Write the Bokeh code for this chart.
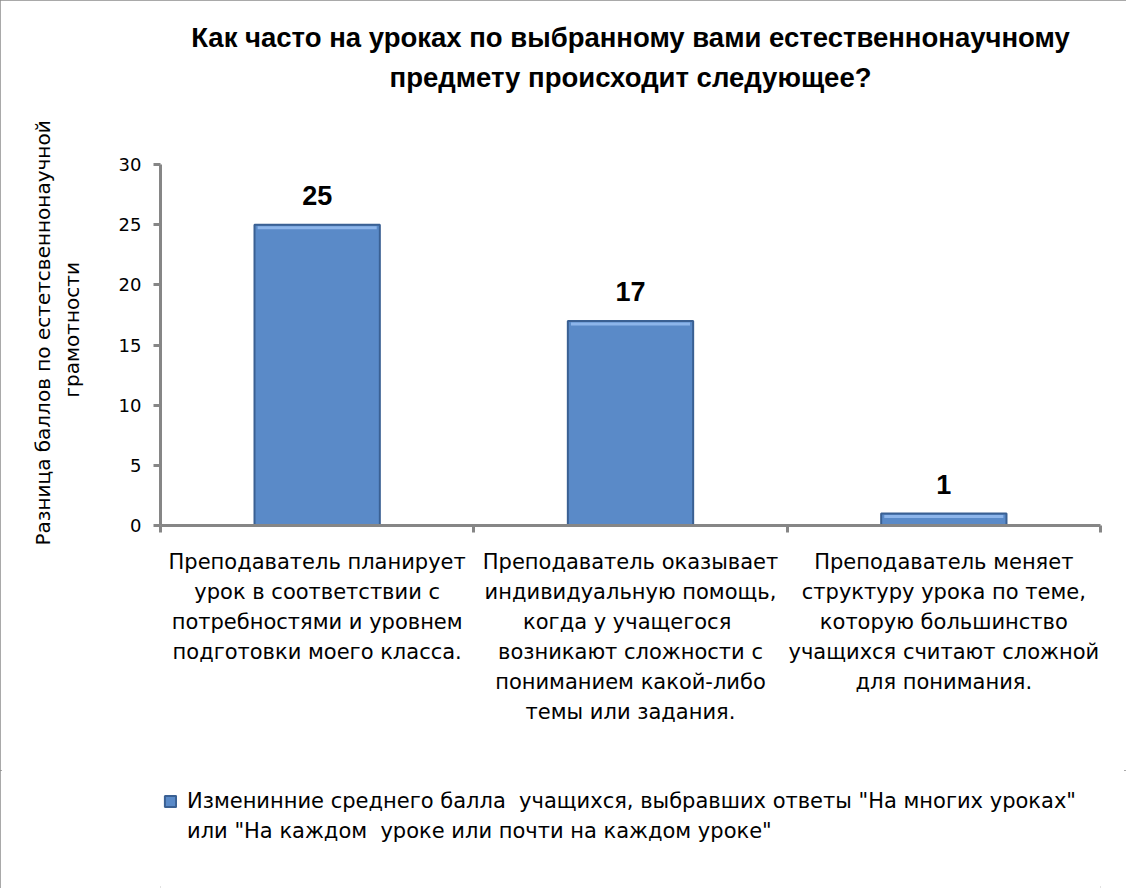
from bokeh.plotting import figure
from bokeh.layouts import column
from bokeh.models import (ColumnDataSource, Range1d, FixedTicker, LinearAxis,
                          LabelSet, Legend, LegendItem, Title)
from bokeh.embed import file_html
from bokeh.resources import INLINE
from bokeh.core.properties import value

# ---------------- data ----------------
title_lines = ["Как часто на уроках по выбранному вами естественнонаучному",
               "предмету происходит следующее?"]
category_lines = [
    ["Преподаватель планирует", "урок в соответствии с", "потребностями и уровнем",
     "подготовки моего класса."],
    ["Преподаватель оказывает", "индивидуальную помощь,", "когда у  учащегося",
     "возникают сложности с", "пониманием какой-либо", "темы или задания."],
    ["Преподаватель меняет", "структуру урока по теме,", "которую большинство",
     "учащихся считают сложной", "для понимания."],
]
categories = [" ".join(lines) for lines in category_lines]
values = [25, 17, 1]
y_ticks = [0, 5, 10, 15, 20, 25, 30]
y_label_lines = ["Разница баллов  по естетсвеннонаучной", "грамотности"]
legend_lines = ['Изменинние среднего балла  учащихся, выбравших ответы "На многих уроках"',
                'или "На каждом  уроке или почти на каждом уроке"']

# ---------------- styles ----------------
AXIS_GRAY = "#868686"
BAR_FILL = "#5a8ac8"
BAR_LINE = "#3a6093"
CAT_FONT = "DejaVu Sans"
CAT_SIZE = "21px"
W = 1126
H_MAIN = 770
H_LEG = 888 - H_MAIN

n = len(categories)
slot_center = [i + 0.5 for i in range(n)]          # category slot centres on the x scale

p = figure(width=W, height=H_MAIN, x_range=Range1d(0, n), y_range=Range1d(0, 30),
           output_backend="svg", toolbar_location=None,
           min_border_left=160, min_border_right=26, min_border_top=164,
           min_border_bottom=H_MAIN - 525)
p.xgrid.visible = False
p.ygrid.visible = False
p.outline_line_color = None

# main axes
for ax, ticks in ((p.xaxis[0], list(range(n + 1))), (p.yaxis[0], y_ticks)):
    ax.ticker = FixedTicker(ticks=ticks)
    ax.axis_line_color = AXIS_GRAY
    ax.axis_line_width = 3
    ax.major_tick_line_color = AXIS_GRAY
    ax.major_tick_line_width = 3
    ax.major_tick_in = 0
    ax.major_tick_out = 7
    ax.minor_tick_line_color = None
xax = p.xaxis[0]
xax.major_label_text_font_size = "0px"
xax.major_label_standoff = 0

yax = p.yaxis[0]
yax.major_label_text_font = "DejaVu Sans"
yax.major_label_text_font_size = "18px"
yax.major_label_text_color = "black"
yax.major_label_standoff = 12
yax.axis_label = " "
yax.axis_label_text_font_size = "10px"
yax.axis_label_standoff = 16

# category label rows: one tick-label row per text line, centred on each slot
n_rows = max(len(l) for l in category_lines)
for j in range(n_rows):
    overrides = {}
    for xc, lines in zip(slot_center, category_lines):
        overrides[xc] = lines[j] if j < len(lines) else ""
    row = LinearAxis(ticker=FixedTicker(ticks=slot_center), major_label_overrides=overrides,
                     axis_line_color=None, major_tick_line_color=None,
                     major_tick_in=0, major_tick_out=0, minor_tick_line_color=None,
                     major_label_standoff=17 if j == 0 else 3,
                     major_label_text_font=CAT_FONT, major_label_text_font_size=CAT_SIZE,
                     major_label_text_color="black")
    p.add_layout(row, "below")

# bars
src = ColumnDataSource(dict(x=slot_center, val=values, lbl=[str(v) for v in values],
                            x0=[c - 0.19 for c in slot_center], x1=[c + 0.19 for c in slot_center],
                            hi=[v - 0.25 for v in values]))
bars = p.vbar(x="x", top="val", bottom=0, width=0.4, source=src,
              fill_color=BAR_FILL, line_color=BAR_LINE, line_width=2)
p.segment(x0="x0", x1="x1", y0="hi", y1="hi", source=src, line_color="#8db5ea", line_width=3)

p.add_layout(LabelSet(x="x", y="val", text="lbl", source=src, y_offset=29,
                      text_align="center", text_baseline="middle",
                      text_font=value("Liberation Sans"), text_font_style="bold",
                      text_font_size="27px", text_color="black"))

# title: spacer nearest the frame, then line 2, then line 1
p.add_layout(Title(text=" ", text_font_size="10px", standoff=55), "above")
for t in reversed(title_lines):
    p.add_layout(Title(text=t, align="center", standoff=7,
                       text_font="Liberation Sans", text_font_style="bold",
                       text_font_size="27.5px", text_color="black"), "above")

# y axis label (two rotated lines, nearest first)
for t, off in zip(reversed(y_label_lines), [128, -20]):
    p.add_layout(Title(text=t, align="left", offset=off, standoff=3,
                       text_font="DejaVu Sans", text_font_style="normal",
                       text_font_size="20px", text_color="black"), "left")

# legend strip (its frame is aligned with the main frame by the column layout)
p2 = figure(width=W, height=H_LEG, x_range=Range1d(0, 1), y_range=Range1d(0, 1),
            x_axis_type=None, y_axis_type=None, title=None, min_border=0,
            output_backend="svg", toolbar_location=None)
p2.outline_line_color = None
# hidden legend proxies (not drawn; only their legend swatches are shown)
proxy = p2.vbar(x=[0.5], top=[1], width=0.4, fill_color=BAR_FILL, line_color=BAR_LINE,
                line_width=2, visible=False)
ghost = p2.vbar(x=[0.5], top=[1], width=0.4, fill_alpha=0, line_alpha=0, visible=False)
legend = Legend(items=[LegendItem(label=legend_lines[0], renderers=[proxy]),
                       LegendItem(label=legend_lines[1], renderers=[ghost])],
                location=(3, 42), padding=0, margin=0, spacing=0,
                glyph_width=14, glyph_height=14, label_height=30, label_standoff=10,
                label_text_font=CAT_FONT, label_text_font_size=CAT_SIZE,
                label_text_color="black", inactive_fill_alpha=0,
                border_line_color=None, background_fill_alpha=0)
p2.add_layout(legend)

layout = column(p, p2, spacing=0,
                styles={"outline": "2px solid #8c8c8c", "outline-offset": "-2px"})
open("out.html", "w").write(file_html(layout, INLINE))
